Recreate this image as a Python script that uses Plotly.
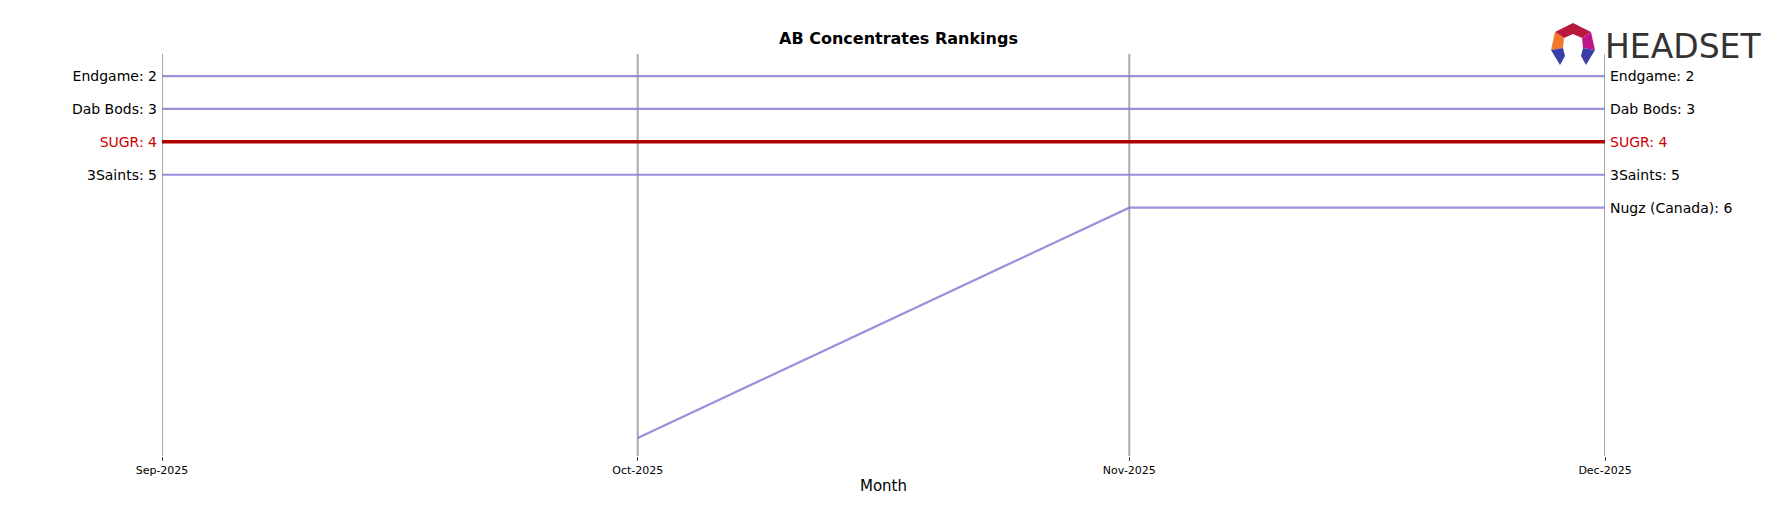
import plotly.graph_objects as go

months = ["2025-09-01", "2025-10-01", "2025-11-01", "2025-12-01"]
tick_labels = ["Sep-2025", "Oct-2025", "Nov-2025", "Dec-2025"]
brands = ["Endgame", "Dab Bods", "SUGR", "3Saints", "Nugz (Canada)"]
ranks = {
    "Endgame": [2, 2, 2, 2],
    "Dab Bods": [3, 3, 3, 3],
    "SUGR": [4, 4, 4, 4],
    "3Saints": [5, 5, 5, 5],
    "Nugz (Canada)": [None, 13, 6, 6],
}
highlight = "SUGR"

W, H = 1781, 507
L, R, T, B = 154, 184, 46, 59

fig = go.Figure()
for b in brands:
    hl = b == highlight
    fig.add_trace(go.Scatter(
        x=months, y=ranks[b], mode="lines", name=b, connectgaps=False,
        line=dict(color="#b00000" if hl else "rgba(138,125,212,0.85)", width=3.5 if hl else 2.2),
        showlegend=False))

def labels(idx):
    vals, texts = [], []
    for b in brands:
        v = ranks[b][idx]
        if v is not None:
            vals.append(v)
            c = "#cc0000" if b == highlight else "black"
            texts.append(f"<span style='color:{c}'>{b}: {v}</span>")
    return vals, texts

lv, lt = labels(0)
rv, rt = labels(-1)

fig.add_trace(go.Scatter(x=[months[-1]], y=[rv[0]], yaxis="y2", mode="markers",
                         marker=dict(opacity=0), showlegend=False, hoverinfo="skip"))

for m in months:
    fig.add_vline(x=m, line=dict(color="#aaaaaa", width=2), layer="below")

rng = [13.55, 1.33]
fig.update_layout(
    width=W, height=H, plot_bgcolor="white", paper_bgcolor="white",
    margin=dict(l=L, r=R, t=T, b=B, autoexpand=False),
    font=dict(family="DejaVu Sans", color="black"),
    title=dict(text="<b>AB Concentrates Rankings</b>", x=0.5, xanchor="center", y=0.94, yanchor="middle",
               font=dict(size=16)),
    xaxis=dict(tickvals=months, ticktext=tick_labels, range=[months[0], months[-1]], showgrid=False,
               ticks="outside", ticklen=4, tickfont=dict(size=11), zeroline=False, automargin=False,
               title=dict(text="Month", font=dict(size=15), standoff=4)),
    yaxis=dict(range=rng, tickvals=lv, ticktext=lt, showgrid=False, zeroline=False, automargin=False,
               tickfont=dict(size=14), ticks="", ticklabelstandoff=4),
    yaxis2=dict(range=rng, tickvals=rv, ticktext=rt, overlaying="y", side="right", showgrid=False,
                zeroline=False, automargin=False, tickfont=dict(size=14), ticks="", ticklabelstandoff=4),
)

def px(x, y):
    return (x - L) / (W - L - R), (H - B - y) / (H - T - B)

def poly(pts, color):
    path = ""
    for i, (x, y) in enumerate(pts):
        a, b = px(x, y)
        path += ("M " if i == 0 else " L ") + f"{a:.5f} {b:.5f}"
    fig.add_shape(type="path", xref="paper", yref="paper", path=path + " Z",
                  fillcolor=color, line=dict(width=0))

poly([(1547, 24), (1565, 15), (1583, 24), (1574, 30), (1565, 26), (1556, 30)], "#b8193c")
poly([(1547, 24), (1556, 30), (1555, 40), (1543, 42)], "#f07a2a")
poly([(1583, 24), (1587, 42), (1575, 40), (1574, 30)], "#c0168c")
poly([(1543, 42), (1555, 40), (1557, 48), (1552, 57)], "#3a3fa6")
poly([(1587, 42), (1575, 40), (1573, 48), (1578, 57)], "#3a3fa6")

lx, ly = px(1595, 38)
fig.add_annotation(text="HEADSET", xref="paper", yref="paper", x=lx, y=ly, xanchor="left",
                   yanchor="middle", showarrow=False,
                   font=dict(size=33, color="#333333", family="DejaVu Sans"))
fig.write_html("out.html")
